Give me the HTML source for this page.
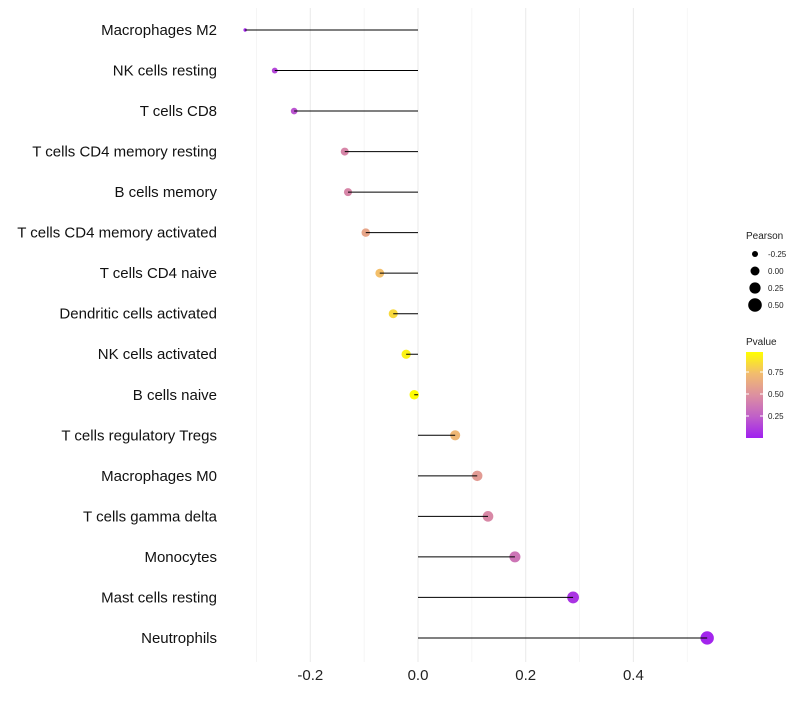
<!DOCTYPE html>
<html><head><meta charset="utf-8"><style>
body{margin:0;background:#fff;font-family:"Liberation Sans",sans-serif}
</style></head><body>
<svg id="c" width="800" height="700" xmlns="http://www.w3.org/2000/svg">
<defs><linearGradient id="pg" x1="0" y1="1" x2="0" y2="0">
<stop offset="0" stop-color="#A020F0"/><stop offset="0.25" stop-color="#C060C8"/><stop offset="0.5" stop-color="#DD90A0"/><stop offset="0.75" stop-color="#F2BC6E"/><stop offset="1" stop-color="#FFFF00"/></linearGradient></defs>
</svg>
<script>
const categories=["Macrophages M2","NK cells resting","T cells CD8","T cells CD4 memory resting","B cells memory","T cells CD4 memory activated","T cells CD4 naive","Dendritic cells activated","NK cells activated","B cells naive","T cells regulatory  Tregs ","Macrophages M0","T cells gamma delta","Monocytes","Mast cells resting","Neutrophils"];
const pearson=[-0.321,-0.266,-0.230,-0.136,-0.130,-0.097,-0.071,-0.046,-0.022,-0.007,0.069,0.110,0.130,0.180,0.288,0.537];
const pvalue=[0.03,0.15,0.2,0.45,0.45,0.62,0.76,0.86,0.95,0.99,0.72,0.56,0.46,0.36,0.08,0.02];
const xTicks=[-0.2,0.0,0.2,0.4];
const xTickLabels=["-0.2","0.0","0.2","0.4"];
const sizeBreaks=[-0.25,0,0.25,0.5];
const sizeLabels=["-0.25","0.00","0.25","0.50"];
const colorBreaks=[0.25,0.5,0.75];
const colorLabels=["0.25","0.50","0.75"];

const svg=document.getElementById('c');const NS="http://www.w3.org/2000/svg";
function mk(t,a,p){const e=document.createElementNS(NS,t);for(const k in a)e.setAttribute(k,a[k]);(p||svg).appendChild(e);return e;}
const x=v=>418+v*538.5;
const y=i=>30+i*40.53;
const r=v=>1.7+5*Math.sqrt(Math.max(0,(v+0.32)/0.86));
const stops=[[160,32,240],[192,96,200],[221,144,160],[242,188,110],[255,255,0]];
function col(p){p=Math.max(0,Math.min(1,p));const f=p*4,i=Math.min(3,Math.floor(f)),t=f-i;const a=stops[i],b=stops[i+1];return `rgb(${a.map((c,k)=>Math.round(c+(b[k]-c)*t)).join(',')})`;}
for(let v=-0.3;v<=0.55;v+=0.1){const major=Math.abs(Math.round(v*10))%2==0;const g=mk('line',{x1:x(v),x2:x(v),y1:8,y2:662,stroke:major?'#ebebeb':'#f3f3f3','stroke-width':major?1.1:0.8});

}
xTicks.forEach((v,i)=>{const t=mk('text',{x:x(v),y:680,'text-anchor':'middle','font-size':15,fill:'#222'});t.textContent=xTickLabels[i];

});
categories.forEach((c,i)=>{
const t=mk('text',{x:217,y:y(i)+5,'text-anchor':'end','font-size':15,fill:'#111'});t.textContent=c;


const d=mk('circle',{cx:x(pearson[i]),cy:y(i),r:r(pearson[i]),fill:col(pvalue[i])});


const l=mk('line',{x1:x(0),x2:x(pearson[i]),y1:y(i),y2:y(i),stroke:'#000','stroke-width':1});


});
const lt=mk('text',{x:746,y:239,'font-size':10,fill:'#222'});lt.textContent='Pearson';


const lr=[3,4.5,5.6,6.8];
sizeBreaks.forEach((v,i)=>{const cy=254+i*17;const c=mk('circle',{cx:755,cy:cy,r:lr[i],fill:'#000'});


const t=mk('text',{x:768,y:cy+3,'font-size':8,fill:'#222'});t.textContent=sizeLabels[i];

});
const pt=mk('text',{x:746,y:345,'font-size':10,fill:'#222'});pt.textContent='Pvalue';


const bar=mk('rect',{x:746,y:352,width:17,height:86,fill:'url(#pg)'});


const cy=v=>438-v*88;
colorBreaks.forEach((v,i)=>{mk('line',{x1:746,x2:749,y1:cy(v),y2:cy(v),stroke:'#fff'});mk('line',{x1:760,x2:763,y1:cy(v),y2:cy(v),stroke:'#fff'});
const t=mk('text',{x:768,y:cy(v)+3,'font-size':8,fill:'#222'});t.textContent=colorLabels[i];

});
</script>
</body></html>
